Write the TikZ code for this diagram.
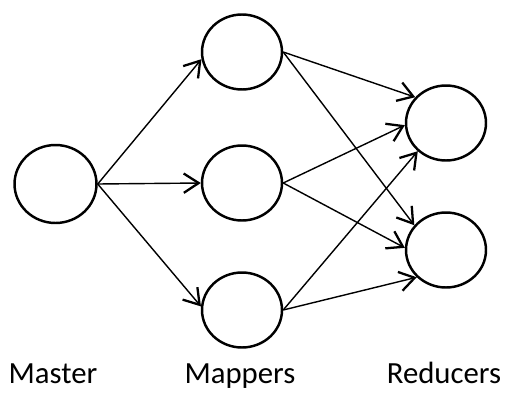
\documentclass[tikz,border=0pt]{standalone}
\usepackage{fontspec}
\setmainfont{Carlito}
\usetikzlibrary{shapes.geometric,arrows.meta}

\tikzset{
  task/.style={draw,ellipse,line width=1.4pt,minimum width=1.6cm,minimum height=1.5cm,inner sep=0pt},
  flow/.style={line width=0.8pt,-{Straight Barb[length=8.5pt,width=11pt,line width=1.3pt]}},
  tier/.style={anchor=base,font=\fontsize{17.5}{20}\selectfont}
}

\begin{document}
\begin{tikzpicture}[x=0.02cm,y=-0.02cm]

\useasboundingbox (0,0) rectangle (506,395);

% Master
\node[task,minimum width=1.64cm,minimum height=1.56cm] (master) at (55.5,184) {};

% Mappers
\node[task] (map1) at (242,52)  {};
\node[task] (map2) at (242,183) {};
\node[task] (map3) at (242,310) {};

% Reducers
\node[task] (red1) at (446,123) {};
\node[task] (red2) at (446,250) {};

% -------- Master -> Mappers --------
\draw[flow] (master.east) -- (map1.190);
\draw[flow] (master.east) -- (map2.180);
\draw[flow] (master.east) -- (map3.175);

% -------- Mappers -> Reducers --------
\foreach \m/\a in {map1/140,map2/183,map3/225}{
    \draw[flow] (\m.east) -- (red1.\a);
}
\foreach \m/\a in {map1/142,map2/177,map3/223}{
    \draw[flow] (\m.east) -- (red2.\a);
}

% ---- Tier labels ----
\node[tier] (lmaster)  at (53,383)  {Master};
\node[tier] (lmappers) at (240,383) {Mappers};
\node[tier] (lreduce)  at (444,383) {Reducers};

\end{tikzpicture}
\end{document}
